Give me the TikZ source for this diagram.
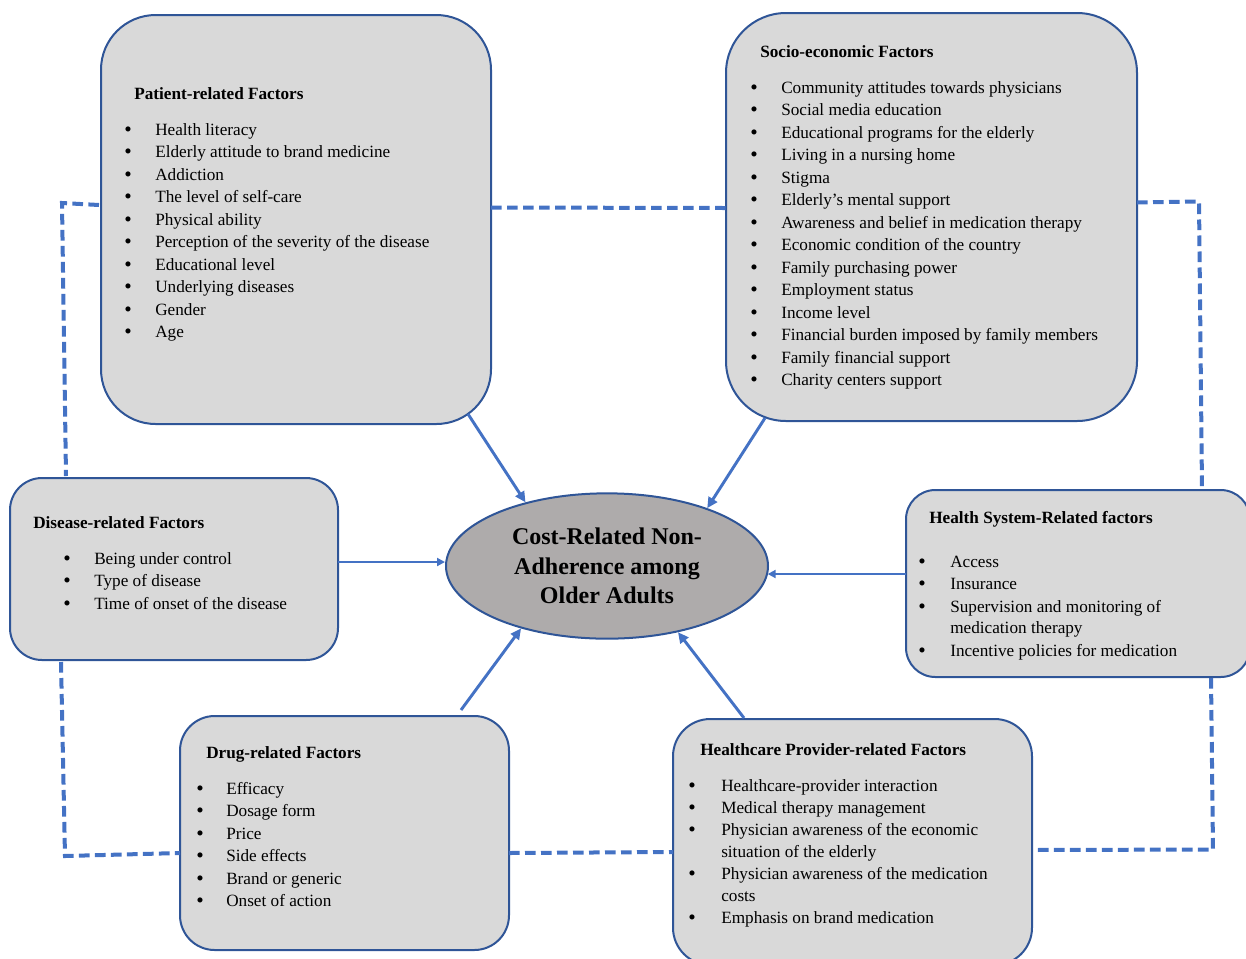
\documentclass[tikz,border=0pt]{standalone}
\usepackage{fontspec}
\setmainfont{Liberation Serif}
\usetikzlibrary{arrows.meta,fit,shapes.geometric}
\definecolor{boxfill}{HTML}{D9D9D9}
\definecolor{boxline}{HTML}{2F5597}
\definecolor{ellfill}{HTML}{AEABAB}
\definecolor{linkblue}{HTML}{4472C4}
\newcommand\itemfont{\fontsize{12.9}{15}\selectfont}
\begin{document}
\begin{tikzpicture}[x=0.75pt,y=-0.75pt,
  box/.style={draw=boxline, fill=boxfill, line width=1.5pt, inner sep=0pt},
  head/.style={anchor=base west, inner sep=0pt, font=\itemfont\bfseries},
  itm/.style={anchor=base west, inner sep=0pt, font=\itemfont},
  bul/.style={anchor=base, inner sep=0pt, font=\fontsize{16}{16}\selectfont, yshift=-1pt},
  dsh/.style={draw=linkblue, line width=3pt, dash pattern=on 8pt off 4pt},
  arr/.style={draw=linkblue, line width=2.2pt, -{Triangle[length=8pt,width=7.5pt]}},
  arrthin/.style={draw=linkblue, line width=1.6pt, -{Triangle[length=6pt,width=6pt]}}
]
\useasboundingbox (0,0) rectangle (1246,958);
\clip (0,0) rectangle (1246,958);

% ---------- boxes ----------
\path (101,15) coordinate (p1) (491,424) coordinate (p2);
\node[box, rounded corners=41pt, fit=(p1)(p2)] (patient) {};
\path (726,13) coordinate (s1) (1137,421) coordinate (s2);
\node[box, rounded corners=45pt, fit=(s1)(s2)] (socio) {};
\path (10,478) coordinate (d1) (338,660) coordinate (d2);
\node[box, rounded corners=24pt, fit=(d1)(d2)] (disease) {};
\path (906,490) coordinate (h1) (1250,677) coordinate (h2);
\node[box, rounded corners=22pt, fit=(h1)(h2)] (health) {};
\path (180,716) coordinate (g1) (509,950) coordinate (g2);
\node[box, rounded corners=26pt, fit=(g1)(g2)] (drug) {};
\path (673,719) coordinate (v1) (1032,965) coordinate (v2);
\node[box, rounded corners=28pt, fit=(v1)(v2)] (provider) {};

% ---------- centre ----------
\node[ellipse, draw=boxline, fill=ellfill, line width=1.5pt, inner sep=0pt,
      minimum width=241.5pt, minimum height=109pt, align=center,
      font=\fontsize{18}{22.1}\selectfont\bfseries] (cran) at (607,566)
      {Cost-Related Non-\\Adherence among\\Older Adults};

% ---------- patient ----------
\node[head] (patient-h) at (134,99) {Patient-related Factors};
\foreach \t [count=\i] in {Health literacy, Elderly attitude to brand medicine, Addiction,
  The level of self-care, Physical ability, Perception of the severity of the disease,
  Educational level, Underlying diseases, Gender, Age} {
  \node[bul] (patient-b\i) at (128,{135+22.5*(\i-1)}) {\textbullet};
  \node[itm] (patient-i\i) at (155,{135+22.5*(\i-1)}) {\t};
}

% ---------- socio ----------
\node[head] (socio-h) at (760,57) {Socio-economic Factors};
\foreach \t [count=\i] in {Community attitudes towards physicians, Social media education,
  Educational programs for the elderly, Living in a nursing home, Stigma,
  Elderly’s mental support, Awareness and belief in medication therapy,
  Economic condition of the country, Family purchasing power, Employment status,
  Income level, Financial burden imposed by family members, Family financial support,
  Charity centers support} {
  \node[bul] (socio-b\i) at (754,{93+22.5*(\i-1)}) {\textbullet};
  \node[itm] (socio-i\i) at (781,{93+22.5*(\i-1)}) {\t};
}

% ---------- disease ----------
\node[head] (disease-h) at (33,528) {Disease-related Factors};
\foreach \t [count=\i] in {Being under control, Type of disease, Time of onset of the disease} {
  \node[bul] (disease-b\i) at (67,{564+22.5*(\i-1)}) {\textbullet};
  \node[itm] (disease-i\i) at (94,{564+22.5*(\i-1)}) {\t};
}

% ---------- health system ----------
\node[head] (health-h) at (929,523) {Health System-Related factors};
\foreach \y/\t [count=\i] in {567/Access, 589.5/Insurance, 612/Supervision and monitoring of,
  633.5/medication therapy, 656/Incentive policies for medication} {
  \node[itm] (health-i\i) at (950,\y) {\t};
}
\foreach \y [count=\i] in {567,589.5,612,656} {
  \node[bul] (health-b\i) at (922,\y) {\textbullet};
}

% ---------- drug ----------
\node[head] (drug-h) at (206,758) {Drug-related Factors};
\foreach \t [count=\i] in {Efficacy, Dosage form, Price, Side effects, Brand or generic, Onset of action} {
  \node[bul] (drug-b\i) at (200,{794+22.5*(\i-1)}) {\textbullet};
  \node[itm] (drug-i\i) at (226,{794+22.5*(\i-1)}) {\t};
}

% ---------- provider ----------
\node[head] (provider-h) at (700,755) {Healthcare Provider-related Factors};
\foreach \y/\t [count=\i] in {791/Healthcare-provider interaction, 813/Medical therapy management,
  835/Physician awareness of the economic, 857/situation of the elderly,
  879/Physician awareness of the medication, 901/costs, 923/Emphasis on brand medication} {
  \node[itm] (provider-i\i) at (721,\y) {\t};
}
\foreach \y [count=\i] in {791,813,835,879,923} {
  \node[bul] (provider-b\i) at (692,\y) {\textbullet};
}

% ---------- arrows ----------
\coordinate (pa) at (468,414);
\coordinate (sa) at (765,418);
\coordinate (da) at (338,562);
\coordinate (ha) at (906,574);
\coordinate (ga) at (461,710);
\coordinate (va) at (744,718);
\draw[arr] (pa) -- (cran.142);
\draw[arr] (sa) -- (cran.30);
\draw[arrthin] (da) -- (da -| cran.west);
\draw[arrthin] (ha) -- ([xshift=-1pt]ha -| cran.east);
\draw[arr] (ga) -- (cran.216.5);
\draw[arr] (va) -- (cran.317.7);

% ---------- dashed links ----------
\coordinate (q1) at (99,205);
\coordinate (q2) at (62,203);
\coordinate (q3) at (66,476);
\draw[dsh] (q1) -- (q2) -- (q3);

\coordinate (r1) at (491,207.5);
\coordinate (r2) at (726,208);
\draw[dsh] (r1) -- (r2);

\coordinate (t1) at (1137,202.5);
\coordinate (t2) at (1199,201.5);
\coordinate (t3) at (1202,489);
\draw[dsh] (t1) -- (t2) -- (t3);

\coordinate (u1) at (61,662);
\coordinate (u2) at (65,856);
\coordinate (u3) at (180,853);
\draw[dsh] (u1) -- (u2) -- (u3);

\coordinate (w1) at (509,853);
\coordinate (w2) at (673,852);
\draw[dsh] (w1) -- (w2);

\coordinate (z1) at (1211,678);
\coordinate (z2) at (1213,849.5);
\coordinate (z3) at (1033,850);
\draw[dsh] (z1) -- (z2) -- (z3);
\end{tikzpicture}
\end{document}
